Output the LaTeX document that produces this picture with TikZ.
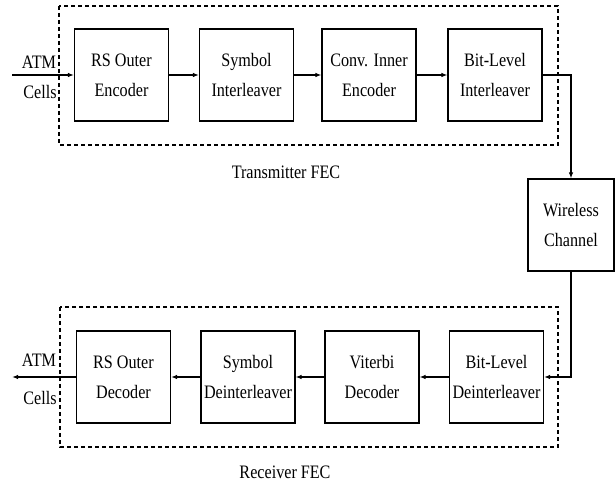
\documentclass[tikz,border=0pt]{standalone}
\usepackage{fontspec}
\setmainfont[FakeStretch=0.85]{Liberation Serif}
\usetikzlibrary{arrows.meta}

\tikzset{
	fecblock/.style={draw, line width=1.1pt, minimum width=94pt, minimum height=92pt, align=center, inner sep=0pt, font=\fontsize{19}{30}\selectfont},
	fecgroup/.style={draw, line width=1.3pt, dash pattern={on 4pt off 3pt}},
	sig/.style={line width=1.3pt, -{Latex[length=6pt,width=4.5pt]}},
	lbl/.style={inner sep=0pt, font=\fontsize{19}{30}\selectfont}
}

\begin{document}
\begin{tikzpicture}[x=1pt, y=1pt]
			\useasboundingbox (0, 0) rectangle (616, 486);
			% transmitter side
			\node[fecblock](N1) at (121.5, 411){RS Outer\\Encoder};
			\node[fecblock](N2) at (246.5, 411){Symbol\\Interleaver};
			\node[fecblock](N3) at (369, 411){Conv. Inner\\Encoder};
			\node[fecblock](N4) at (495, 411){Bit-Level\\Interleaver};
			\draw[fecgroup] (59, 480) rectangle (558, 341);
			\node[lbl](N5) at (286, 314){Transmitter FEC};
			% channel
			\node[fecblock, minimum width=86pt](N6) at (571, 261){Wireless\\Channel};
			% receiver side
			\node[fecblock](N7) at (496.5, 109){Bit-Level\\Deinterleaver};
			\node[fecblock](N8) at (372, 109){Viterbi\\Decoder};
			\node[fecblock](N9) at (248, 109){Symbol\\Deinterleaver};
			\node[fecblock](N10) at (123.5, 109){RS Outer\\Decoder};
			\draw[fecgroup] (60, 179) rectangle (558, 39);
			\node[lbl](N11) at (285, 14){Receiver FEC};
			% ATM cells in and out
			\coordinate (C1) at (12, 411);
			\coordinate (C2) at (12, 109);
			\node[lbl](N12) at (39, 424){ATM};
			\node[lbl](N13) at (40, 394){Cells};
			\node[lbl](N14) at (39, 126){ATM};
			\node[lbl](N15) at (40, 88){Cells};
			\draw[sig] (C1) -- (N1);
			\draw[sig] (N1) -- (N2);
			\draw[sig] (N2) -- (N3);
			\draw[sig] (N3) -- (N4);
			\draw[sig] (N4.east) -| (N6.north);
			\draw[sig] (N6.south) |- (N7.east);
			\draw[sig] (N7) -- (N8);
			\draw[sig] (N8) -- (N9);
			\draw[sig] (N9) -- (N10);
			\draw[sig] (N10) -- (C2);
		\end{tikzpicture}
\end{document}
